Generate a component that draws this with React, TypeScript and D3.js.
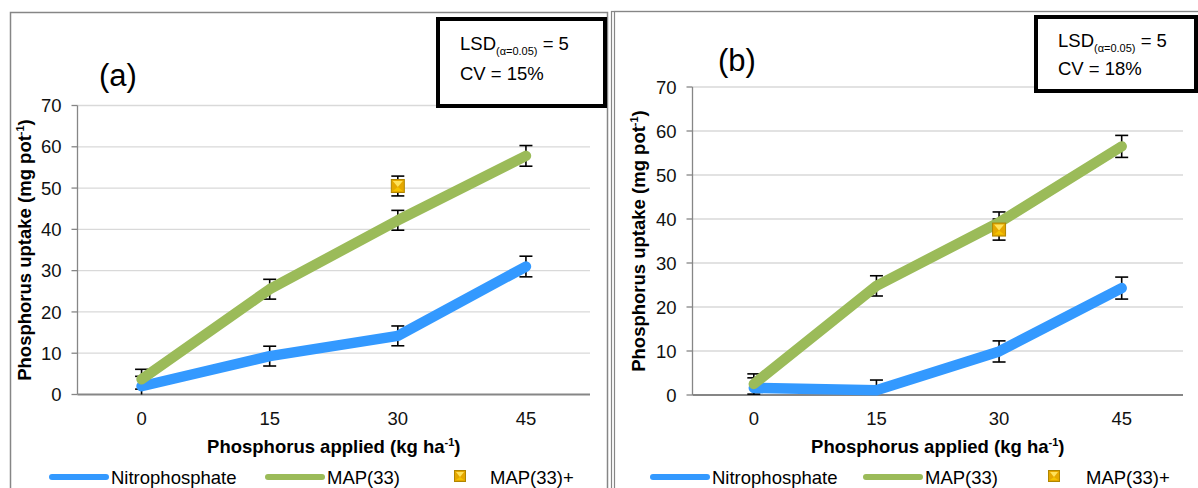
import * as d3 from "d3";

// Phosphorus applied (kg ha-1)
const doses = ["0", "15", "30", "45"];
const yTicks = [0, 10, 20, 30, 40, 50, 60, 70];

// Panel (a)
const nitroA = [2, 9.3, 14.2, 31];
const mapA = [3.7, 25.5, 42.2, 57.8];
const mapPlusA = [{ dose: "30", value: 50.5 }];
const errA = [2.4, 2.4, 2.4, 2.5];

// Panel (b)
const nitroB = [1.6, 1.1, 9.9, 24.3];
const mapB = [2.5, 24.8, 39.2, 56.5];
const mapPlusB = [{ dose: "30", value: 37.6 }];
const errB = [2.3, 2.3, 2.4, 2.5];

const BLUE = "#3399FF";
const GREEN = "#9BBB59";
const AXIS = "#868686";
const GRID = "#D9D9D9";
const FONT = "'Liberation Sans', Arial, sans-serif";
const FS = 18.5;

function Marker({ x, y, s = 12 }: { x: number; y: number; s?: number }) {
  const h = s / 2;
  return (
    <g transform={`translate(${x},${y})`}>
      <rect x={-h} y={-h} width={s} height={s} fill="#E5A800" stroke="#B08600" strokeWidth={1} />
      <polygon points={`${-h + 1.5},${-h + 1.5} ${h - 1.5},${-h + 1.5} 0,${1}`} fill="#FFE25A" />
      <polygon points={`${-h + 1.5},${h - 1.5} ${h - 1.5},${h - 1.5} 0,${1}`} fill="#F5C400" />
    </g>
  );
}

type PanelProps = {
  label: string;
  labelX: number;
  labelY: number;
  x0: number;
  x1: number;
  y0: number;
  y1: number;
  nitro: number[];
  map: number[];
  mapPlus: { dose: string; value: number }[];
  err: number[];
  box: { x: number; y: number; w: number; h: number; cv: string; l1: number; l2: number };
  yTitleX: number;
  xTitleY: number;
  legendY: number;
  legendX: number[];
};

function Panel(p: PanelProps) {
  const x = d3.scalePoint<string>().domain(doses).range([p.x0, p.x1]).padding(0.5);
  const y = d3.scaleLinear().domain([0, 70]).range([p.y0, p.y1]);
  const line = d3
    .line<number>()
    .x((_, i) => x(doses[i])!)
    .y((d) => y(d));
  const errBar = (cx: number, v: number, e: number, key: string) => (
    <g key={key} stroke="#000" strokeWidth={1.6}>
      <line x1={cx} x2={cx} y1={y(v + e)} y2={y(Math.max(0, v - e))} />
      <line x1={cx - 6.5} x2={cx + 6.5} y1={y(v + e)} y2={y(v + e)} />
      {v - e > 0 && <line x1={cx - 6.5} x2={cx + 6.5} y1={y(v - e)} y2={y(v - e)} />}
    </g>
  );
  const midY = (p.y0 + p.y1) / 2;
  const midX = (p.x0 + p.x1) / 2;
  const lx = p.legendX;
  return (
    <g fontFamily={FONT}>
      {/* gridlines */}
      {yTicks.slice(1).map((t) => (
        <line key={t} x1={p.x0} x2={p.x1} y1={y(t)} y2={y(t)} stroke={GRID} strokeWidth={1.3} />
      ))}
      {/* y axis */}
      <line x1={p.x0} x2={p.x0} y1={p.y0} y2={p.y1} stroke={AXIS} strokeWidth={1.3} />
      {yTicks.map((t) => (
        <g key={t}>
          <line x1={p.x0 - 6} x2={p.x0} y1={y(t)} y2={y(t)} stroke={AXIS} strokeWidth={1.3} />
          <text x={p.x0 - 16} y={y(t)} dy="0.36em" textAnchor="end" fontSize={FS} fill="#111">
            {t}
          </text>
        </g>
      ))}
      {/* x axis */}
      <line x1={p.x0} x2={p.x1} y1={p.y0} y2={p.y0} stroke={AXIS} strokeWidth={2} />
      {doses.map((d) => (
        <text key={d} x={x(d)} y={p.y0 + 30} textAnchor="middle" fontSize={FS} fill="#111">
          {d}
        </text>
      ))}
      {/* axis titles */}
      <text
        transform={`translate(${p.yTitleX},${midY}) rotate(-90)`}
        textAnchor="middle"
        fontSize={FS}
        fontWeight="bold"
        fill="#000"
      >
        Phosphorus uptake (mg pot
        <tspan fontSize={11} dy={-7}>-1</tspan>
        <tspan dy={7}>)</tspan>
      </text>
      <text x={midX} y={p.xTitleY} textAnchor="middle" fontSize={FS} fontWeight="bold" fill="#000">
        Phosphorus applied (kg ha
        <tspan fontSize={11} dy={-7}>-1</tspan>
        <tspan dy={7}>)</tspan>
      </text>
      {/* error bars */}
      {p.nitro.map((v, i) => errBar(x(doses[i])!, v, p.err[i], `n${i}`))}
      {p.map.map((v, i) => errBar(x(doses[i])!, v, p.err[i], `m${i}`))}
      {p.mapPlus.map((d, i) => errBar(x(d.dose)!, d.value, 2.4, `p${i}`))}
      {/* lines */}
      <path d={line(p.nitro)!} fill="none" stroke={BLUE} strokeWidth={10.5} strokeLinecap="round" strokeLinejoin="round" />
      <path d={line(p.map)!} fill="none" stroke={GREEN} strokeWidth={10.5} strokeLinecap="round" strokeLinejoin="round" />
      {p.mapPlus.map((d, i) => (
        <Marker key={i} x={x(d.dose)!} y={y(d.value)} s={13} />
      ))}
      {/* panel label */}
      <text x={p.labelX} y={p.labelY} fontSize={31} fill="#000">
        {p.label}
      </text>
      {/* stats box */}
      <rect x={p.box.x} y={p.box.y} width={p.box.w} height={p.box.h} fill="#fff" stroke="#000" strokeWidth={4} />
      <text x={p.box.x + 22} y={p.box.y + p.box.l1} fontSize={FS} fill="#000">
        LSD
        <tspan fontSize={11} dy={5}>(α=0.05)</tspan>
        <tspan dy={-5}> = 5</tspan>
      </text>
      <text x={p.box.x + 22} y={p.box.y + p.box.l2} fontSize={FS} fill="#000">
        {p.box.cv}
      </text>
      {/* legend */}
      <line x1={lx[0]} x2={lx[0] + 54} y1={p.legendY} y2={p.legendY} stroke={BLUE} strokeWidth={6} strokeLinecap="round" />
      <text x={lx[0] + 59} y={p.legendY} dy="0.36em" fontSize={FS} fill="#000">
        Nitrophosphate
      </text>
      <line x1={lx[1]} x2={lx[1] + 54} y1={p.legendY} y2={p.legendY} stroke={GREEN} strokeWidth={6} strokeLinecap="round" />
      <text x={lx[1] + 59} y={p.legendY} dy="0.36em" fontSize={FS} fill="#000">
        MAP(33)
      </text>
      <Marker x={lx[2]} y={p.legendY - 1} s={11} />
      <text x={lx[3]} y={p.legendY} dy="0.36em" fontSize={FS} fill="#000">
        MAP(33)+
      </text>
    </g>
  );
}

export default function App() {
  return (
    <svg
      width={1198}
      height={488}
      style={{ position: "absolute", left: 0, top: 0, background: "#fff" }}
    >
      <rect x={10.5} y={12.5} width={597} height={490} fill="#fff" stroke={AXIS} strokeWidth={1.5} />
      <rect x={611.5} y={11.5} width={600} height={490} fill="none" stroke={AXIS} strokeWidth={1.2} />
      <rect x={614.5} y={11.5} width={600} height={490} fill="none" stroke={AXIS} strokeWidth={1.2} />
      <Panel
        label="(a)"
        labelX={99}
        labelY={86}
        x0={77.5}
        x1={590}
        y0={394.5}
        y1={105.5}
        nitro={nitroA}
        map={mapA}
        mapPlus={mapPlusA}
        err={errA}
        box={{ x: 438, y: 19, w: 167, h: 87, cv: "CV = 15%", l1: 31, l2: 61 }}
        yTitleX={31}
        xTitleY={453}
        legendY={477}
        legendX={[52, 268, 460, 490]}
      />
      <Panel
        label="(b)"
        labelX={718}
        labelY={71}
        x0={692.5}
        x1={1183}
        y0={395}
        y1={87}
        nitro={nitroB}
        map={mapB}
        mapPlus={mapPlusB}
        err={errB}
        box={{ x: 1036, y: 17, w: 160, h: 74, cv: "CV = 18%", l1: 30, l2: 58 }}
        yTitleX={645}
        xTitleY={453}
        legendY={477}
        legendX={[653, 866, 1054, 1086]}
      />
    </svg>
  );
}
